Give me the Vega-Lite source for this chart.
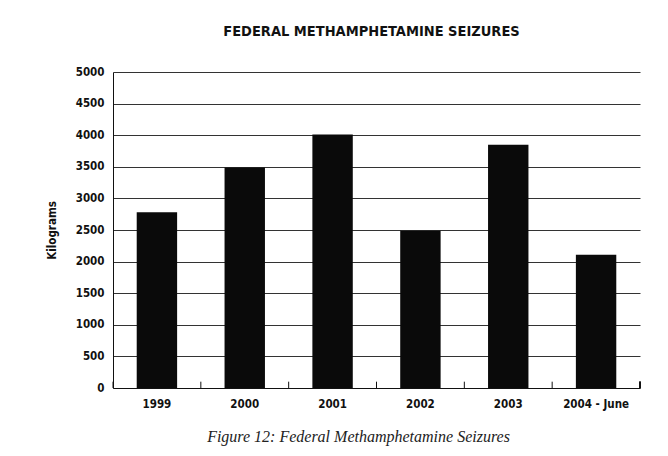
{
  "$schema": "https://vega.github.io/schema/vega-lite/v6.json",
  "autosize": "none",
  "width": 527,
  "height": 316,
  "padding": {"left": 113, "top": 72, "right": 28, "bottom": 68},
  "background": "white",
  "title": {
    "text": "FEDERAL METHAMPHETAMINE SEIZURES",
    "font": "DejaVu Sans Condensed, Liberation Sans Narrow, Roboto",
    "fontSize": 14.5,
    "fontWeight": "bold",
    "color": "#111",
    "offset": 27,
    "anchor": "middle",
    "dx": -5
  },
  "data": {
    "values": [
      {"year": "1999", "kg": 2780},
      {"year": "2000", "kg": 3490},
      {"year": "2001", "kg": 4010},
      {"year": "2002", "kg": 2490},
      {"year": "2003", "kg": 3850},
      {"year": "2004 - June", "kg": 2110}
    ]
  },
  "encoding": {
    "x": {
      "field": "year",
      "type": "ordinal",
      "sort": null,
      "scale": {"paddingInner": 0, "paddingOuter": 0},
      "axis": {
        "title": "Figure 12: Federal Methamphetamine Seizures",
        "titleFont": "Liberation Serif, DejaVu Serif",
        "titleFontStyle": "italic",
        "titleFontWeight": "normal",
        "titleFontSize": 16,
        "titleColor": "#222",
        "titlePadding": 19,
        "titleX": 245,
        "labelAngle": 0,
        "labelFont": "DejaVu Sans Condensed, Liberation Sans Narrow, Roboto",
        "labelFontSize": 11.5,
        "labelFontWeight": "bold",
        "labelColor": "#111",
        "labelPadding": 10,
        "ticks": false,
        "domainColor": "#111",
        "domainWidth": 1
      }
    }
  },
  "layer": [
    {
      "mark": {"type": "bar", "color": "#0a0a0a", "width": {"band": 0.46}},
      "encoding": {
        "y": {
          "field": "kg",
          "type": "quantitative",
          "scale": {"domain": [0, 5000]},
          "axis": {
            "title": "Kilograms",
            "titleFont": "DejaVu Sans Condensed, Liberation Sans Narrow, Roboto",
            "titleFontSize": 11.5,
            "titleFontWeight": "bold",
            "titleColor": "#111",
            "titlePadding": 18,
            "values": [0, 500, 1000, 1500, 2000, 2500, 3000, 3500, 4000, 4500, 5000],
            "format": "d",
            "labelFont": "DejaVu Sans Condensed, Liberation Sans Narrow, Roboto",
            "labelFontSize": 11.5,
            "labelFontWeight": "bold",
            "labelColor": "#111",
            "labelPadding": 9,
            "ticks": false,
            "grid": true,
            "gridColor": "#333",
            "gridWidth": 1,
            "domainColor": "#111",
            "domainWidth": 1
          }
        }
      }
    },
    {
      "mark": {"type": "rule", "color": "#111", "strokeWidth": 1},
      "encoding": {
        "x": {"field": "year", "type": "ordinal", "sort": null, "bandPosition": 0},
        "y": {
          "datum": 0,
          "type": "quantitative",
          "axis": {
            "title": "Kilograms",
            "titleFont": "DejaVu Sans Condensed, Liberation Sans Narrow, Roboto",
            "titleFontSize": 11.5,
            "titleFontWeight": "bold",
            "titleColor": "#111",
            "titlePadding": 18,
            "values": [0, 500, 1000, 1500, 2000, 2500, 3000, 3500, 4000, 4500, 5000],
            "format": "d",
            "labelFont": "DejaVu Sans Condensed, Liberation Sans Narrow, Roboto",
            "labelFontSize": 11.5,
            "labelFontWeight": "bold",
            "labelColor": "#111",
            "labelPadding": 9,
            "ticks": false,
            "grid": true,
            "gridColor": "#333",
            "gridWidth": 1,
            "domainColor": "#111",
            "domainWidth": 1
          }
        },
        "y2": {"datum": 100}
      }
    },
    {
      "mark": {"type": "rule", "color": "#111", "strokeWidth": 1},
      "encoding": {
        "x": {"datum": "2004 - June", "type": "ordinal", "bandPosition": 1},
        "y": {
          "datum": 0,
          "type": "quantitative",
          "axis": {
            "title": "Kilograms",
            "titleFont": "DejaVu Sans Condensed, Liberation Sans Narrow, Roboto",
            "titleFontSize": 11.5,
            "titleFontWeight": "bold",
            "titleColor": "#111",
            "titlePadding": 18,
            "values": [0, 500, 1000, 1500, 2000, 2500, 3000, 3500, 4000, 4500, 5000],
            "format": "d",
            "labelFont": "DejaVu Sans Condensed, Liberation Sans Narrow, Roboto",
            "labelFontSize": 11.5,
            "labelFontWeight": "bold",
            "labelColor": "#111",
            "labelPadding": 9,
            "ticks": false,
            "grid": true,
            "gridColor": "#333",
            "gridWidth": 1,
            "domainColor": "#111",
            "domainWidth": 1
          }
        },
        "y2": {"datum": 100}
      }
    }
  ],
  "config": {
    "view": {"stroke": null}
  }
}
